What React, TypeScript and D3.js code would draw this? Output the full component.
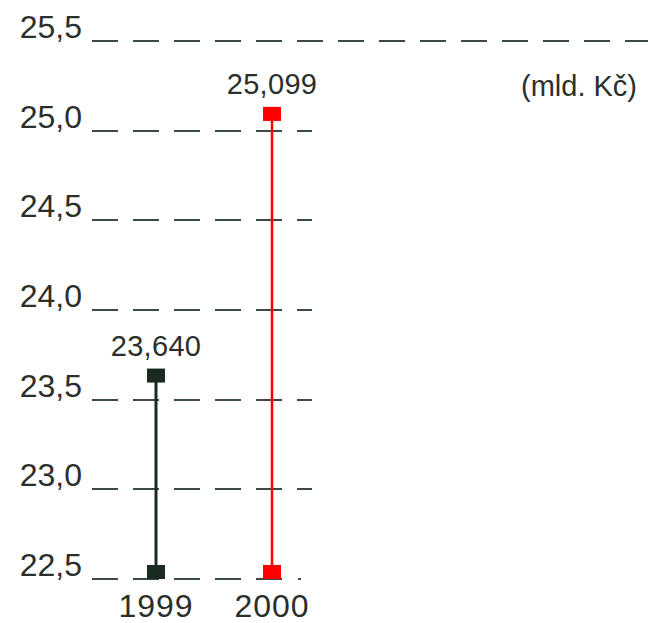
import React from "react";
import * as d3 from "d3";

const years = ["1999", "2000"];
const values = [23.64, 25.099];
const valueLabels = ["23,640", "25,099"];
const colors = ["#1b2a20", "#ff0000"];
const ticks = [22.5, 23.0, 23.5, 24.0, 24.5, 25.0, 25.5];
const unitLabel = "(mld. Kč)";

const W = 648;
const H = 623;
const FONT = "'Liberation Sans', Arial, sans-serif";

export default function App() {
  const y = d3.scaleLinear().domain([22.5, 25.5]).range([579, 41]);
  const x = d3.scalePoint<string>().domain(years).range([156, 272]);
  const fmt = (v: number) => v.toFixed(1).replace(".", ",");
  const gridColor = "#3b4a42";
  const textColor = "#2b2f2c";
  return (
    <svg width={W} height={H} style={{ position: "absolute", left: 0, top: 0 }}>
      <rect width={W} height={H} fill="#fff" />
      {ticks.map((t) => {
        const yy = Math.round(y(t));
        const x2 = t === 25.5 ? W : 312;
        return (
          <g key={t}>
            <text
              x={82}
              y={yy - 3}
              textAnchor="end"
              fontFamily={FONT}
              fontSize={32}
              fill={textColor}
            >
              {fmt(t)}
            </text>
            <line
              x1={92}
              x2={t === 22.5 ? 284 : x2}
              y1={yy}
              y2={yy}
              stroke={gridColor}
              strokeWidth={2}
              strokeDasharray="26 15"
            />
            {t === 22.5 && (
              <rect x={298} y={yy - 1} width={3} height={2} fill={gridColor} />
            )}
          </g>
        );
      })}
      {years.map((yr, i) => {
        const cx = x(yr)!;
        const top = y(values[i]);
        const bottom = y(22.5);
        return (
          <g key={yr}>
            <line
              x1={cx}
              x2={cx}
              y1={top}
              y2={bottom - 7}
              stroke={colors[i]}
              strokeWidth={i === 0 ? 3 : 2.5}
            />
            <rect x={cx - 9} y={top - 6} width={18} height={14} fill={colors[i]} />
            <rect x={cx - 9} y={bottom - 14} width={18} height={14} fill={colors[i]} />
            <text
              x={cx}
              y={top - 19}
              textAnchor="middle"
              fontFamily={FONT}
              fontSize={29}
              letterSpacing={0.3}
              fill={textColor}
            >
              {valueLabels[i]}
            </text>
            <text
              x={cx}
              y={617}
              textAnchor="middle"
              fontFamily={FONT}
              fontSize={32}
              letterSpacing={1}
              fill={textColor}
            >
              {yr}
            </text>
          </g>
        );
      })}
      <text
        x={637}
        y={96}
        textAnchor="end"
        fontFamily={FONT}
        fontSize={29}
        fill={textColor}
      >
        {unitLabel}
      </text>
    </svg>
  );
}
